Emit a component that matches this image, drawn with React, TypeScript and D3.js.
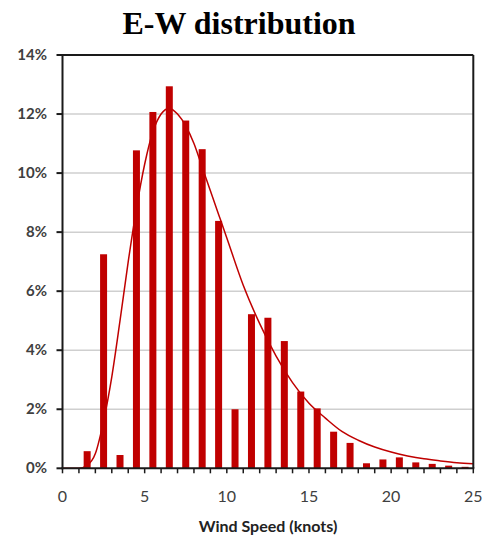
import React from "react";
import * as d3 from "d3";

// Histogram bins: wind speed bin start (knots) and share of observations (%)
const binStarts = [0, 1, 2, 3, 4, 5, 6, 7, 8, 9, 10, 11, 12, 13, 14, 15, 16, 17, 18, 19, 20, 21, 22, 23, 24];
const binShares = [0, 0.58, 7.25, 0.45, 10.77, 12.07, 12.94, 11.78, 10.81, 8.38, 2.0, 5.22, 5.1, 4.31, 2.6, 2.03, 1.24, 0.86, 0.17, 0.3, 0.37, 0.2, 0.15, 0.09, 0.05];

// Fitted distribution curve (knots, %)
const fitSpeeds = [0, 1, 1.5, 2, 2.5, 3, 3.5, 4, 4.5, 5, 5.5, 6, 6.5, 7, 7.5, 8, 8.5, 9, 9.5, 10, 11, 12, 13, 14, 15, 16, 17, 18, 19, 20, 21, 22, 23, 24, 25];
const fitShares = [0, 0.0, 0.1, 0.5, 1.6, 3.1, 5.0, 7.0, 8.8, 10.3, 11.4, 12.0, 12.2, 12.0, 11.6, 11.0, 10.2, 9.4, 8.6, 7.8, 6.2, 4.9, 3.8, 2.9, 2.2, 1.7, 1.25, 0.95, 0.72, 0.55, 0.42, 0.32, 0.25, 0.19, 0.15];

const yTicks = [0, 2, 4, 6, 8, 10, 12, 14];
const xLabelTicks = [0, 5, 10, 15, 20, 25];
const xMinorTicks = d3.range(0, 26);

const W = 487;
const H = 536;
const left = 62.5;
const right = 473.3;
const top = 55;
const bottom = 468.3;

const RED = "#c00000";
const AXIS = "#1a1a1a";
const LABEL = "#404040";
const SANS = "Lato, 'Open Sans', sans-serif";

export default function App() {
  const x = d3.scaleLinear().domain([0, 25]).range([left, right]);
  const y = d3.scaleLinear().domain([0, 14]).range([bottom, top]);
  const barW = 7;

  const line = d3
    .line<number>()
    .x((_, i) => x(fitSpeeds[i]))
    .y((d) => y(d))
    .curve(d3.curveMonotoneX);

  return (
    <svg
      width={W}
      height={H}
      style={{ position: "absolute", left: 0, top: 0, background: "#fff" }}
    >
      <text
        x={239}
        y={34}
        textAnchor="middle"
        fontFamily="'Liberation Serif', 'Times New Roman', serif"
        fontWeight="bold"
        fontSize={32}
        fill="#000"
      >
        E-W distribution
      </text>

      {/* horizontal gridlines */}
      {yTicks
        .filter((t) => t > 0 && t < 14)
        .map((t) => (
          <line key={t} x1={left} x2={right} y1={y(t)} y2={y(t)} stroke="#cfcfcf" strokeWidth={1.5} />
        ))}

      {/* bars */}
      {binStarts.map((b, i) => (
        <rect
          key={b}
          x={x(b + 0.5) - barW / 2}
          y={y(binShares[i])}
          width={barW}
          height={Math.max(0, bottom - y(binShares[i]))}
          fill={RED}
        />
      ))}

      {/* fitted curve */}
      <path d={line(fitShares) ?? ""} fill="none" stroke={RED} strokeWidth={1.5} />

      {/* plot frame */}
      <line x1={left} x2={right} y1={top} y2={top} stroke={AXIS} strokeWidth={2} />
      <line x1={right} x2={right} y1={top} y2={bottom} stroke={AXIS} strokeWidth={2} />
      <line x1={left} x2={left} y1={top - 1} y2={bottom + 1} stroke={AXIS} strokeWidth={2} />
      <line x1={left - 1} x2={right + 1} y1={bottom} y2={bottom} stroke={AXIS} strokeWidth={2} />

      {/* y ticks and labels */}
      {yTicks.map((t) => (
        <g key={t}>
          <line x1={left - 6} x2={left} y1={y(t)} y2={y(t)} stroke={AXIS} strokeWidth={2} />
          <text
            x={47}
            y={y(t) + 5}
            textAnchor="end"
            fontFamily={SANS}
            fontSize={15}
            fontWeight="bold"
            fill={LABEL}
          >
            {`${t}%`}
          </text>
        </g>
      ))}

      {/* x ticks */}
      {xMinorTicks.map((t) => (
        <line key={t} x1={x(t)} x2={x(t)} y1={bottom} y2={bottom + 5} stroke={AXIS} strokeWidth={1.5} />
      ))}
      {xLabelTicks.map((t) => (
        <text
          key={t}
          x={x(t)}
          y={502}
          textAnchor="middle"
          fontFamily={SANS}
          fontSize={16}
          fill={LABEL}
        >
          {t}
        </text>
      ))}

      <text
        x={268}
        y={532}
        textAnchor="middle"
        fontFamily={SANS}
        fontSize={16}
        fontWeight="bold"
        fill="#222"
      >
        Wind Speed (knots)
      </text>
    </svg>
  );
}
